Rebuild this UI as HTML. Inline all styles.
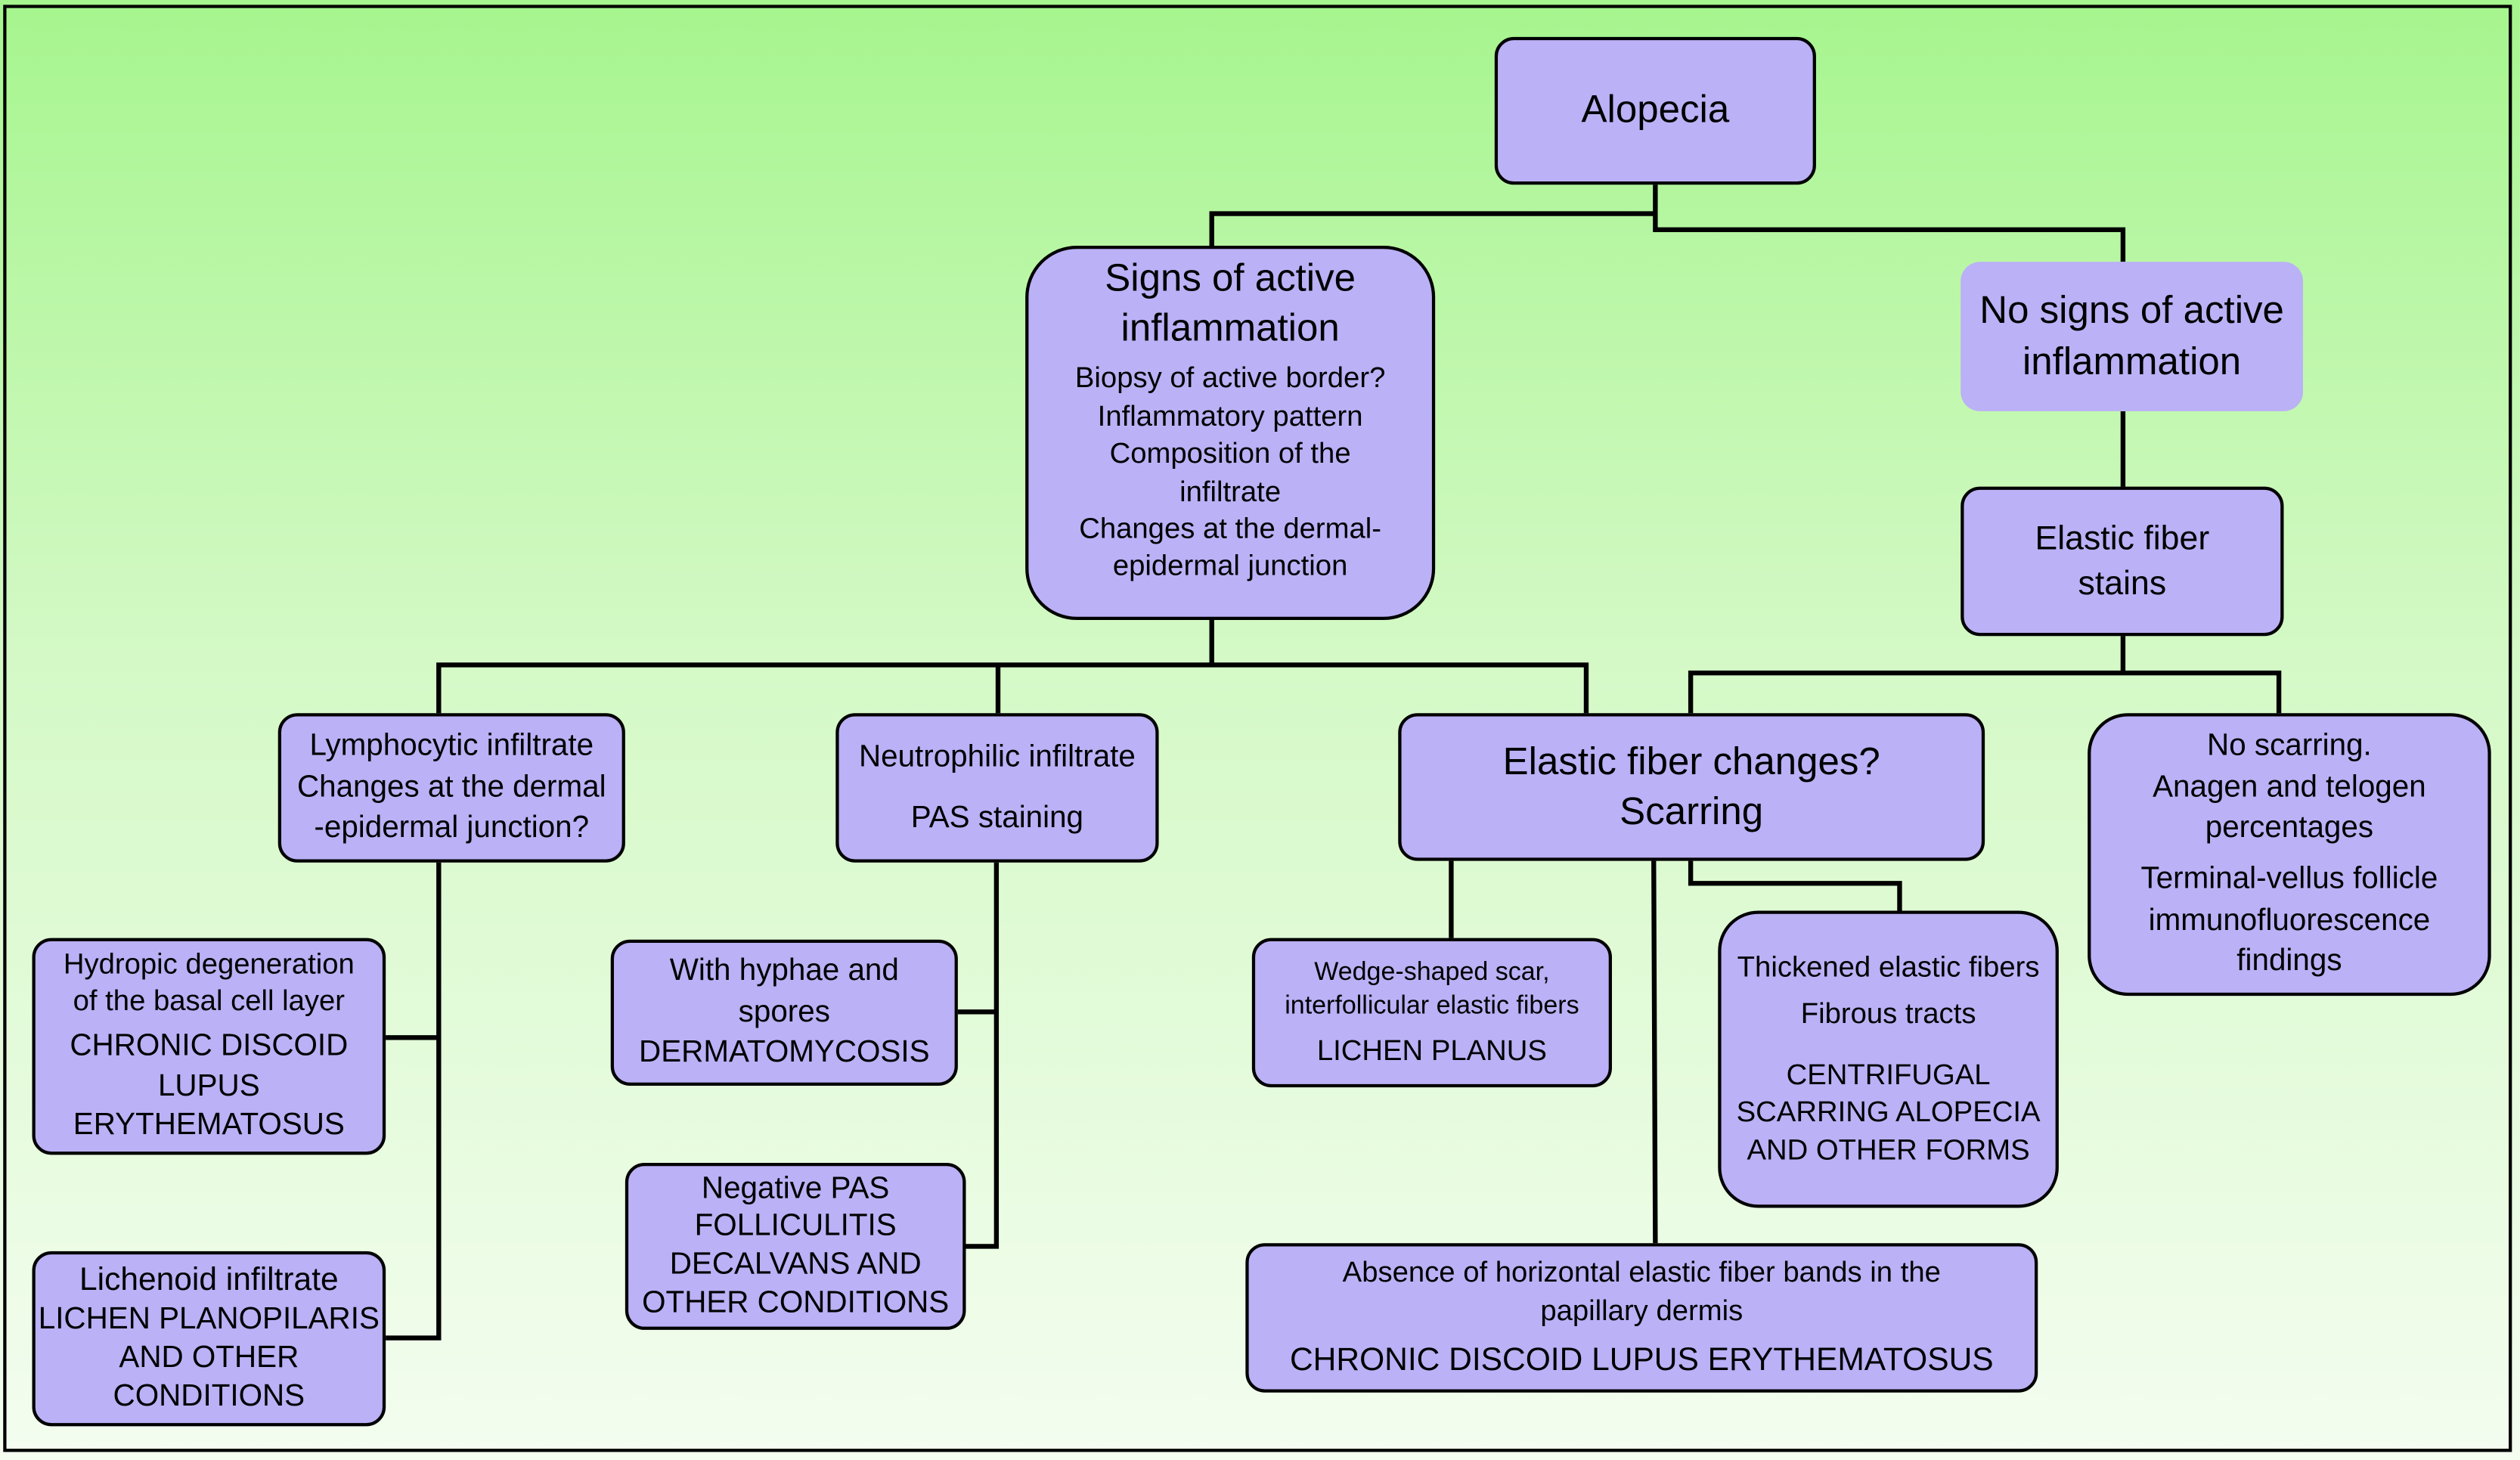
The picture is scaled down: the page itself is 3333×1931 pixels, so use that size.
<!DOCTYPE html>
<html><head><meta charset="utf-8"><style>
html,body{margin:0;padding:0;width:3333px;height:1931px;overflow:hidden;background:#fff}
#s{position:absolute;left:0;top:0;width:1568px;height:909px;transform-origin:0 0;transform:scale(2.1256,2.1243);
background:linear-gradient(#a6f58e 0%,#d4f9c6 45%,#f4fdf0 100%);font-family:"Liberation Sans",sans-serif;color:#000}
.f{position:absolute;left:2px;top:3px;width:1561px;height:901px;border:2px solid #000;box-sizing:border-box}
.b{position:absolute;background:#bbb1f6;border:2px solid #000;border-radius:12px;box-sizing:border-box;display:flex;flex-direction:column;align-items:center;justify-content:center;text-align:center;line-height:1.25}
svg{position:absolute;left:0;top:0}
</style></head><body><div id="s">
<div class="f"></div>
<svg width="1568" height="909"><g stroke="#000" stroke-width="3" fill="none">
<path d="M1030 115V133H754V153M1030 133V143H1321V163M1321 256V303M1321 396V419H1052V444M1321 419H1418V444"/>
<path d="M754 386V414H273V444M621 414V444M754 414H987V444"/>
<path d="M273 537V833H240M240 646H273"/>
<path d="M620 537V776H601M596 630H620"/>
<path d="M903 536V584M1029 536L1030 774M1052 536V550H1182V567"/>
</g></svg>
<div class="b" style="left:930px;top:23px;width:200px;height:92px;font-size:24px">Alopecia</div>
<div class="b" style="left:638px;top:153px;width:255px;height:233px;border-radius:32px;font-size:18px;line-height:1.3;justify-content:flex-start;padding-top:3px">
<div style="font-size:24px;line-height:1.3">Signs of active<br>inflammation</div>
<div style="margin-top:4px">Biopsy of active border?<br>Inflammatory pattern<br>Composition of the<br>infiltrate<br>Changes at the dermal-<br>epidermal junction</div></div>
<div class="b" style="left:1220px;top:163px;width:213px;height:93px;border:none;font-size:24px;line-height:1.3">No signs of active<br>inflammation</div>
<div class="b" style="left:1220px;top:303px;width:201px;height:93px;font-size:21px;line-height:1.3">Elastic fiber<br>stains</div>
<div class="b" style="left:173px;top:444px;width:216px;height:93px;font-size:19px;line-height:1.35">Lymphocytic infiltrate<br>Changes at the dermal<br>-epidermal junction?</div>
<div class="b" style="left:520px;top:444px;width:201px;height:93px;font-size:19px;line-height:2">Neutrophilic infiltrate<br>PAS staining</div>
<div class="b" style="left:870px;top:444px;width:365px;height:92px;font-size:24px;line-height:1.3">Elastic fiber changes?<br>Scarring</div>
<div class="b" style="left:1299px;top:444px;width:251px;height:176px;border-radius:25px;font-size:19px;line-height:1.35">No scarring.<br>Anagen and telogen<br>percentages<div style="margin-top:6px">Terminal-vellus follicle<br>immunofluorescence<br>findings</div></div>
<div class="b" style="left:20px;top:584px;width:220px;height:135px;font-size:18px;line-height:1.3">Hydropic degeneration<br>of the basal cell layer<div style="margin-top:4px;font-size:19px">CHRONIC DISCOID<br>LUPUS<br>ERYTHEMATOSUS</div></div>
<div class="b" style="left:20px;top:779px;width:220px;height:109px;font-size:19px;line-height:1.25"><div style="font-size:20px">Lichenoid infiltrate</div>LICHEN PLANOPILARIS<br>AND OTHER<br>CONDITIONS</div>
<div class="b" style="left:380px;top:585px;width:216px;height:91px;font-size:19px;line-height:1.35">With hyphae and<br>spores<br>DERMATOMYCOSIS</div>
<div class="b" style="left:389px;top:724px;width:212px;height:104px;font-size:19px;line-height:1.25">Negative PAS<br>FOLLICULITIS<br>DECALVANS AND<br>OTHER CONDITIONS</div>
<div class="b" style="left:779px;top:584px;width:224px;height:93px;font-size:16px;line-height:1.35">Wedge-shaped scar,<br>interfollicular elastic fibers<div style="margin-top:4px;font-size:18px">LICHEN PLANUS</div></div>
<div class="b" style="left:1069px;top:567px;width:212px;height:185px;border-radius:25px;font-size:18px;line-height:1.3">Thickened elastic fibers<div style="margin-top:6px">Fibrous tracts</div><div style="margin-top:14px">CENTRIFUGAL<br>SCARRING ALOPECIA<br>AND OTHER FORMS</div></div>
<div class="b" style="left:775px;top:774px;width:493px;height:93px;font-size:18px;line-height:1.3">Absence of horizontal elastic fiber bands in the<br>papillary dermis<div style="margin-top:6px;font-size:20px">CHRONIC DISCOID LUPUS ERYTHEMATOSUS</div></div>
</div></body></html>
